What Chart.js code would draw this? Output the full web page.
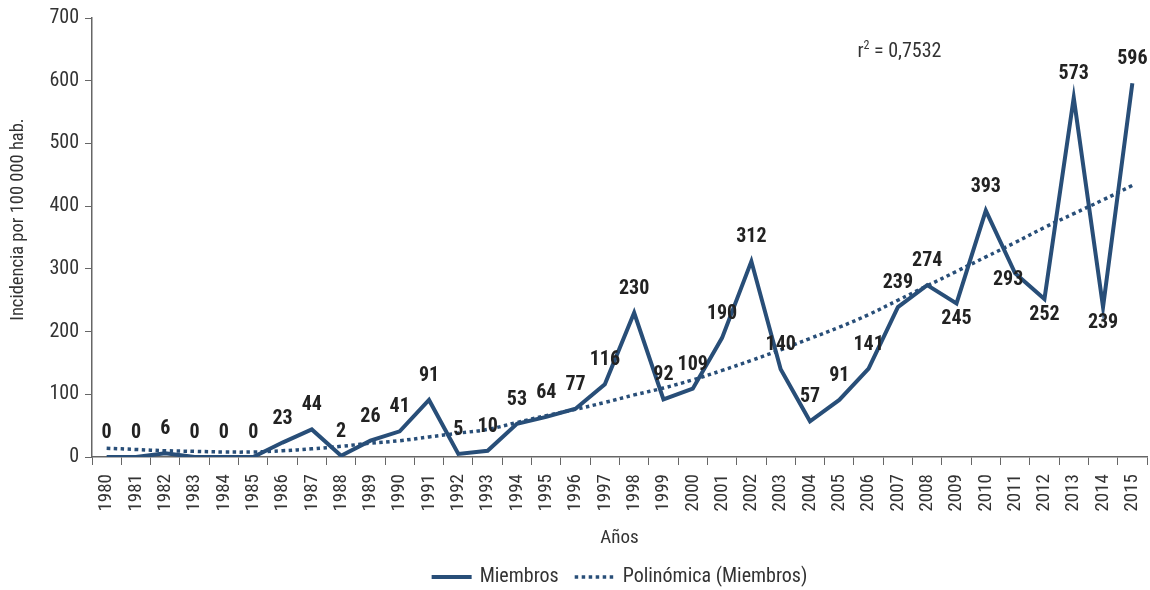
<!DOCTYPE html>
<html>
<head>
<meta charset="utf-8">
<script src="https://cdn.jsdelivr.net/npm/chart.js@4.4.1/dist/chart.umd.min.js"></script>
<style>
  html, body { margin: 0; padding: 0; background: #fff; }
  #wrap { width: 1150px; height: 590px; }
</style>
</head>
<body>
<div id="wrap"><canvas id="grafico"></canvas></div>
<script>
// Datos
const anios = ["1980","1981","1982","1983","1984","1985","1986","1987","1988","1989",
  "1990","1991","1992","1993","1994","1995","1996","1997","1998","1999",
  "2000","2001","2002","2003","2004","2005","2006","2007","2008","2009",
  "2010","2011","2012","2013","2014","2015"];
const miembros = [0,0,6,0,0,0,23,44,2,26,41,91,5,10,53,64,77,116,230,92,
  109,190,312,140,57,91,141,239,274,245,393,293,252,573,239,596];
const polinomica = [14,12,10,9,8,8,10,13,17,22,26,32,38,44,55,66,76,87,99,110,
  123,138,154,171,189,207,227,250,273,296,319,342,366,388,410,433];
// posición de cada etiqueta respecto al punto (a = arriba, b = abajo, i = izquierda)
const posEtiqueta = ["a","a","a","a","a","a","a","a","a","a",
  "a","a","a","a","a","a","a","a","a","a",
  "a","a","a","a","a","a","a","a","a","b",
  "a","i","b","a","b","a"];
const ticksY = [0,100,200,300,400,500,600,700];
const r2 = "0,7532";
const tituloY = "Incidencia por 100 000 hab.";

const AZUL = "#284e78";
const FUENTE = '"Liberation Sans Narrow", "Roboto Condensed", "Liberation Sans", sans-serif';

// Etiquetas de valor, r², título Y y leyenda
const extras = {
  id: "extras",
  afterDatasetsDraw(chart) {
    const ctx = chart.ctx;
    const meta = chart.getDatasetMeta(0);
    const a = chart.chartArea;
    ctx.save();
    ctx.font = "bold 20px " + FUENTE;
    ctx.fillStyle = "#222";
    ctx.textAlign = "center";
    ctx.textBaseline = "middle";
    meta.data.forEach((pt, i) => {
      let dx = 0, dy = -24;
      if (posEtiqueta[i] === "b") dy = 16;
      if (posEtiqueta[i] === "i") { dx = -7; dy = 7; }
      ctx.fillText(String(miembros[i]), pt.x + dx, pt.y + dy);
    });

    // r² = ...
    const x0 = a.left + (a.right - a.left) * 0.7255;
    const y0 = a.top + 39;
    ctx.font = "20px " + FUENTE;
    ctx.fillStyle = "#333";
    ctx.textAlign = "left";
    ctx.textBaseline = "alphabetic";
    ctx.fillText("r", x0, y0);
    let x = x0 + ctx.measureText("r").width;
    ctx.font = "12px " + FUENTE;
    ctx.fillText("2", x, y0 - 8);
    x += ctx.measureText("2").width;
    ctx.font = "20px " + FUENTE;
    ctx.fillText(" = " + r2, x, y0);

    // título del eje Y
    ctx.save();
    ctx.translate(18, a.top + (a.bottom - a.top) * 0.459);
    ctx.rotate(-Math.PI / 2);
    ctx.font = "18.5px " + FUENTE;
    ctx.textAlign = "center";
    ctx.textBaseline = "middle";
    ctx.fillText(tituloY, 0, 0);
    ctx.restore();

    // leyenda
    ctx.font = "20px " + FUENTE;
    ctx.textBaseline = "middle";
    ctx.textAlign = "left";
    const items = chart.data.datasets.map(d => ({ d, w: ctx.measureText(d.label).width }));
    const muestra = 40, sep = 8, hueco = 16;
    let total = 0;
    items.forEach((it, i) => { total += muestra + sep + it.w + (i ? hueco : 0); });
    let lx = (a.left + a.right) / 2 - total / 2;
    const ly = 577;
    items.forEach(it => {
      ctx.strokeStyle = it.d.borderColor;
      ctx.lineWidth = it.d.borderWidth;
      ctx.setLineDash(it.d.borderDash || []);
      ctx.beginPath();
      ctx.moveTo(lx, ly);
      ctx.lineTo(lx + muestra, ly);
      ctx.stroke();
      ctx.setLineDash([]);
      ctx.fillStyle = "#333";
      ctx.fillText(it.d.label, lx + muestra + sep, ly);
      lx += muestra + sep + it.w + hueco;
    });
    ctx.restore();
  }
};

new Chart(document.getElementById("grafico"), {
  type: "line",
  data: {
    labels: anios,
    datasets: [
      {
        label: "Miembros",
        data: miembros,
        borderColor: AZUL,
        borderWidth: 4,
        pointRadius: 0,
        tension: 0,
        borderJoinStyle: "miter"
      },
      {
        label: "Polinómica (Miembros)",
        data: polinomica,
        borderColor: AZUL,
        borderWidth: 3.5,
        borderDash: [3.5, 3.5],
        pointRadius: 0,
        tension: 0.4
      }
    ]
  },
  options: {
    responsive: true,
    maintainAspectRatio: false,
    animation: false,
    layout: { padding: { top: 10, right: 3, left: 0, bottom: 40 } },
    plugins: {
      tooltip: { enabled: false },
      legend: { display: false }
    },
    scales: {
      x: {
        offset: true,
        afterFit(scale) {
          scale.height = 93;
          scale.paddingLeft = 0;
          scale.paddingRight = 0;
        },
        grid: { offset: true, drawOnChartArea: false, drawTicks: true, tickLength: 8, color: "#666" },
        border: { color: "#666", width: 1.5 },
        ticks: {
          autoSkip: false, minRotation: 90, maxRotation: 90, padding: 9,
          color: "#333", font: { family: FUENTE, size: 19 }
        },
        title: {
          display: true, text: "Años", color: "#333",
          font: { family: FUENTE, size: 19 }, padding: { top: 0, bottom: 0 }
        }
      },
      y: {
        min: 0, max: 700,
        afterFit(scale) { scale.width = 92; },
        afterBuildTicks(scale) { scale.ticks = ticksY.map(v => ({ value: v })); },
        grid: { drawOnChartArea: false, drawTicks: true, tickLength: 7, color: "#666" },
        border: { color: "#666", width: 1.5 },
        ticks: { padding: 6, color: "#333", font: { family: FUENTE, size: 20 } }
      }
    }
  },
  plugins: [extras]
});
</script>
</body>
</html>
